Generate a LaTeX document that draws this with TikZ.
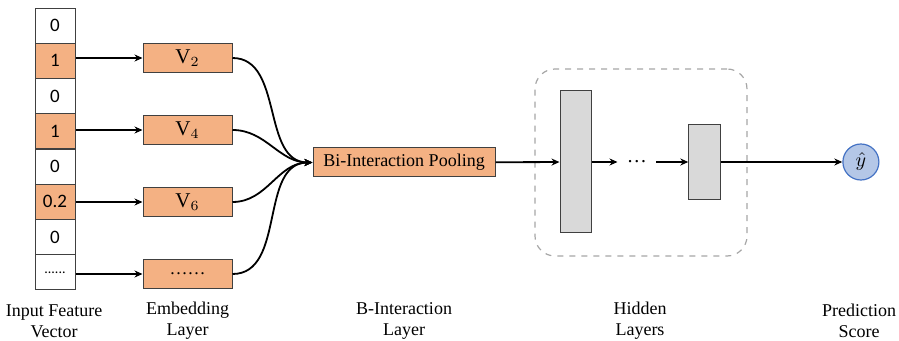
\documentclass[tikz,border=0pt]{standalone}
\usepackage{fontspec}
\setmainfont{Liberation Serif}
\newfontfamily\numfont{Carlito}
\usetikzlibrary{arrows.meta, positioning, calc}
\definecolor{embcolor}{RGB}{244,177,131}
\definecolor{hidcolor}{RGB}{217,217,217}
\definecolor{outfill}{RGB}{180,199,231}
\definecolor{outdraw}{RGB}{68,114,196}
\definecolor{edgecolor}{RGB}{64,64,64}

\begin{document}
\begin{tikzpicture}[
    x=0.5pt, y=-0.5pt,
    cell/.style={rectangle, draw=edgecolor, line width=0.5pt, minimum width=20pt, minimum height=17.6pt, inner sep=0pt, font=\numfont\fontsize{9.5}{11}\selectfont},
    emb/.style={rectangle, draw=edgecolor, line width=0.5pt, fill=embcolor, minimum width=44.5pt, minimum height=14.5pt, inner sep=0pt, font=\fontsize{9}{11}\selectfont},
    vec/.style={emb, font=\fontsize{10.5}{12}\selectfont},
    hid/.style={rectangle, draw=edgecolor, line width=0.5pt, fill=hidcolor, minimum width=15.5pt, inner sep=0pt},
    arrow/.style={-{Stealth[length=4pt, width=3.5pt]}, line width=0.9pt},
    caption/.style={align=center, font=\fontsize{9}{10.5}\selectfont}
]
\useasboundingbox (0,0) rectangle (899,341);

% input feature vector
\foreach \val/\col [count=\i] in {0/white, 1/embcolor, 0/white, 1/embcolor, 0/white, 0.2/embcolor, 0/white, {\scriptsize......}/white}
    \node[cell, fill=\col] (c\i) at (55, {8+35.25*(\i-0.5)}) {\val};

% embedding layer
\node[vec] (v2) at (187.5,58) {$\mathrm{V}_2$};
\node[vec, below=21pt of v2] (v4) {$\mathrm{V}_4$};
\node[vec, below=21pt of v4] (v6) {$\mathrm{V}_6$};
\node[emb, below=21pt of v6] (vdots) {\ldots\ldots};

% bi-interaction layer
\node[emb, minimum width=91pt] (pool) at (404,162.5) {Bi-Interaction Pooling};

% hidden layers
\node[draw=gray!70, dashed, line width=0.6pt, rounded corners=10pt, minimum width=106pt, minimum height=93.5pt] (frame) at (641,162.5) {};
\node[hid, minimum height=71pt] (h1) at (575.5,162) {};
\node[inner sep=0pt, minimum width=19pt, right=13pt of h1] (dots) {\dots};
\node[hid, minimum width=16pt, minimum height=37.5pt, right=16pt of dots] (h2) {};

% prediction
\node[circle, draw=outdraw, line width=0.6pt, fill=outfill, minimum size=18pt, inner sep=0pt, right=60.5pt of h2] (yhat) {$\hat{y}$};

\foreach \i/\v in {2/v2, 4/v4, 6/v6, 8/vdots}
    \draw[arrow] (c\i.east |- \v.west) -- (\v.west);
\draw[arrow] (v2.east) to[out=0, in=180] (pool.west);
\draw[arrow] (v4.east) to[out=0, in=180] (pool.west);
\draw[arrow] (v6.east) to[out=0, in=180] (pool.west);
\draw[arrow] (vdots.east) to[out=0, in=180] (pool.west);
\draw[arrow] (pool) -- (h1);
\draw[arrow] (h1) -- (dots);
\draw[arrow] (dots) -- (h2);
\draw[arrow] (h2) -- (yhat);

% captions
\node[caption] (capin) at (54,321) {Input Feature\\Vector};
\node[caption] (capemb) at (187.5,321) {Embedding\\Layer};
\node[caption] (capbi) at (404,321) {B-Interaction\\Layer};
\node[caption] (caphid) at (640,321) {Hidden\\Layers};
\node[caption] (cappred) at (859,321) {Prediction\\Score};
\end{tikzpicture}
\end{document}
